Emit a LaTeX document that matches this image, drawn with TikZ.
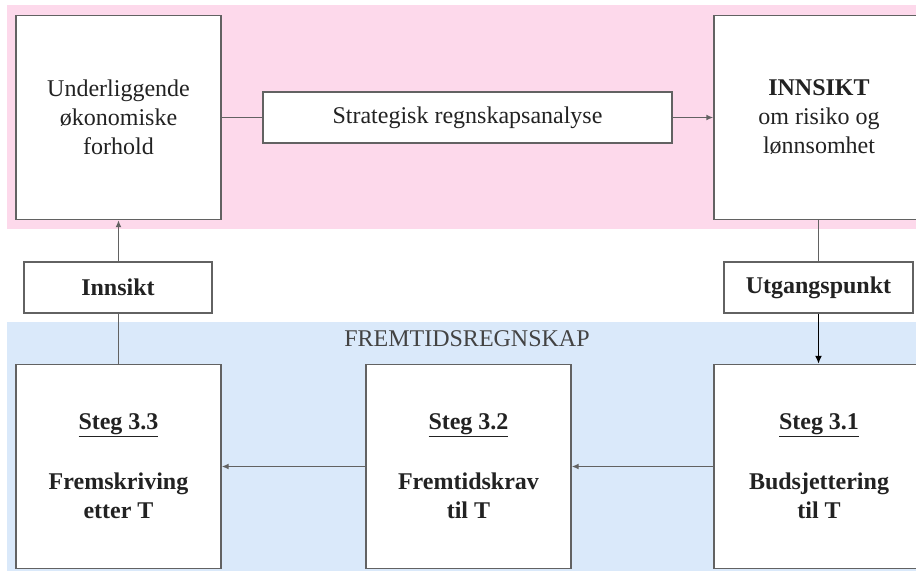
\documentclass[tikz,border=0pt]{standalone}
\usepackage{fontspec}
\setmainfont{Liberation Serif}
\usetikzlibrary{arrows.meta}
\definecolor{bandpink}{HTML}{FDD9EB}
\definecolor{bandblue}{HTML}{DAE9FA}
\definecolor{edgegray}{HTML}{626262}
\definecolor{inkdark}{HTML}{222222}
\tikzset{
  px/.style={x=1pt,y=-1pt},
  bigbox/.style={draw=edgegray, line width=1.4pt, fill=white, minimum width=205pt, minimum height=204pt,
    inner sep=0pt, align=center, text=inkdark, font=\fontsize{24}{29}\selectfont},
  labelbox/.style={draw=edgegray, line width=1.4pt, fill=white, inner sep=0pt, align=center,
    text=inkdark, font=\fontsize{24}{29}\selectfont},
  link/.style={draw=edgegray, line width=1.4pt},
  linkarrow/.style={link, -{Latex[length=7pt,width=6pt]}},
  strongarrow/.style={draw=black, line width=1.5pt, -{Latex[length=8pt,width=7pt]}},
}
\begin{document}
\begin{tikzpicture}[px]
\useasboundingbox (0,0) rectangle (916,574);
\fill[white] (0,0) rectangle (916,574);
% coloured bands
\fill[bandpink] (7,5) rectangle (920,229);
\fill[bandblue] (7,322) rectangle (920,571);
\node[text=inkdark!85, font=\fontsize{24}{29}\selectfont, anchor=base] (fremtid) at (467,346) {FREMTIDSREGNSKAP};

% upper row
\node[bigbox, minimum width=205pt] (under) at (118.5,117.5) {Underliggende\\økonomiske\\forhold};
\node[labelbox, minimum width=409pt, minimum height=51pt] (strat) at (467.5,117.5) {Strategisk regnskapsanalyse};
\node[bigbox, minimum width=210pt] (innsikt) at (819,117.5) {\textbf{INNSIKT}\\om risiko og\\lønnsomhet};

% middle labels
\node[labelbox, minimum width=188pt, minimum height=51pt] (innlab) at (118,287.5) {\textbf{Innsikt}};
\node[labelbox, minimum width=189pt, minimum height=51pt] (utg) at (818.5,287.5) {\textbf{Utgangspunkt}};

% lower row
\node[bigbox] (s33) at (118.5,466.5) {\underline{\textbf{Steg 3.3}}\\[31pt]\textbf{Fremskriving}\\\textbf{etter T}};
\node[bigbox] (s32) at (468.5,466.5) {\underline{\textbf{Steg 3.2}}\\[31pt]\textbf{Fremtidskrav}\\\textbf{til T}};
\node[bigbox, minimum width=210pt] (s31) at (819,466.5) {\underline{\textbf{Steg 3.1}}\\[31pt]\textbf{Budsjettering}\\\textbf{til T}};

% connectors
\draw[link] (under.east) -- (strat.west);
\draw[linkarrow] (strat.east) -- (innsikt.west);
\draw[link] (innsikt.south -| utg.north) -- (utg.north);
\draw[strongarrow] (utg.south) -- (s31.north -| utg.south);
\draw[linkarrow] (s31.west) -- (s32.east);
\draw[linkarrow] (s32.west) -- (s33.east);
\draw[link] (s33.north) -- (innlab.south -| s33.north);
\draw[linkarrow] (innlab.north -| under.south) -- (under.south);
\end{tikzpicture}
\end{document}
